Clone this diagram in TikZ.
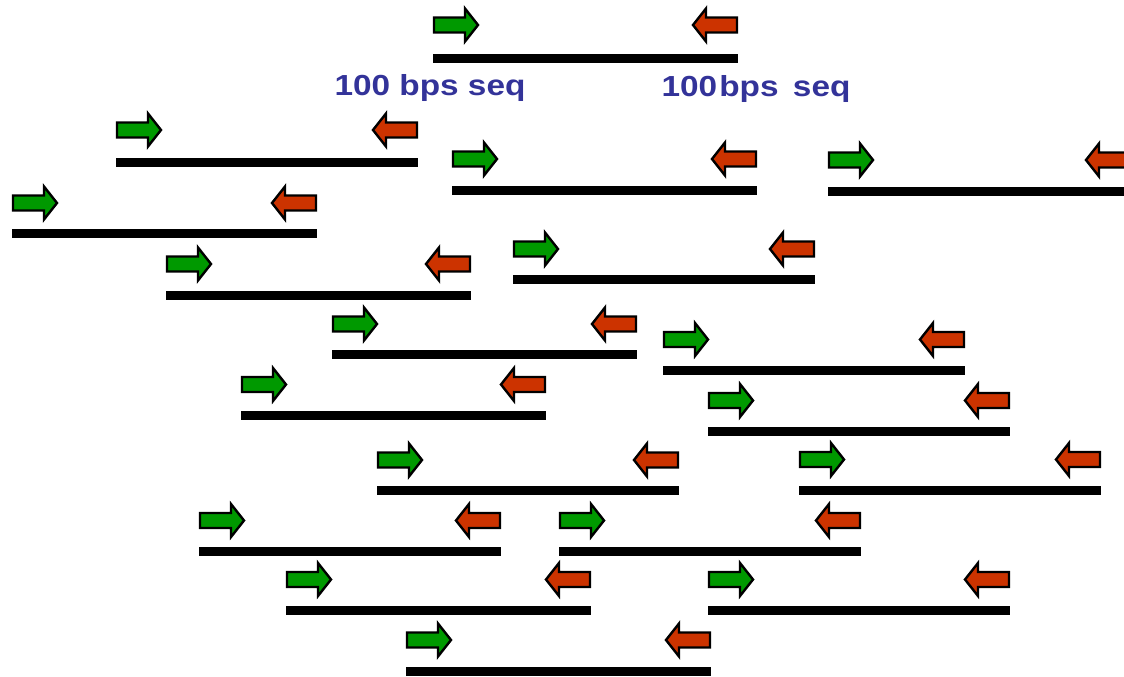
\documentclass[tikz,border=0pt]{standalone}
\usepackage{fontspec}
\setmainfont{Liberation Sans}
\definecolor{fwdgreen}{RGB}{0,153,0}
\definecolor{revred}{RGB}{204,51,0}
\definecolor{labelblue}{RGB}{51,51,153}
\tikzset{
  readbar/.style={fill=black},
  primer/.style={draw=black, line width=1.8pt, line join=miter, miter limit=10},
  fwdprimer/.style={primer, fill=fwdgreen},
  revprimer/.style={primer, fill=revred},
  seqlabel/.style={text=labelblue, font=\bfseries\fontsize{21.75}{26}\selectfont,
                   anchor=base, inner sep=0pt}
}
\begin{document}
\begin{tikzpicture}[x=0.75pt,y=-0.75pt]
  \useasboundingbox (0,0) rectangle (1124,677);
  \clip (0,0) rectangle (1124,677);
  % each read: left end, right end, bar centre, primer centre
  \foreach \xl/\xr/\yb/\ya in {
      433/738/58.5/25,
      116/418/162.5/130,
      452/757/190.5/159,
      828/1131/191.5/160,
      12/317/234/203,
      166/471/295.5/264,
      513/815/279.5/249,
      332/637/354.5/324,
      663/965/370/339.5,
      241/546/415.5/384.5,
      708/1010/431/400.5,
      377/679/490.5/460,
      799/1101/490.5/459.5,
      199/501/551/520.5,
      559/861/551/520.5,
      286/591/610/579.5,
      708/1010/610/579.5,
      406/711/671.5/640}{
    % the read itself
    \fill[readbar] (\xl,\yb-4.5) rectangle (\xr,\yb+4.5);
    % forward primer at the left end
    \draw[fwdprimer] (\xl+1,\ya-7.5) -- (\xl+32,\ya-7.5) -- (\xl+32,\ya-16.5)
      -- (\xl+45,\ya) -- (\xl+32,\ya+16.5) -- (\xl+32,\ya+7.5)
      -- (\xl+1,\ya+7.5) -- cycle;
    % reverse primer at the right end
    \draw[revprimer] (\xr-1,\ya-7.5) -- (\xr-32,\ya-7.5) -- (\xr-32,\ya-16.5)
      -- (\xr-45,\ya) -- (\xr-32,\ya+16.5) -- (\xr-32,\ya+7.5)
      -- (\xr-1,\ya+7.5) -- cycle;
  }
  \node[seqlabel] (leftlabel) at (430,96) {\scalebox{1.15}[1]{100 bps seq}};
  \node[seqlabel] (rightlabel) at (756,96.5)
    {\scalebox{1.15}[1]{100\hspace{-4.6pt} bps\hspace{3.3pt} seq}};
\end{tikzpicture}
\end{document}
